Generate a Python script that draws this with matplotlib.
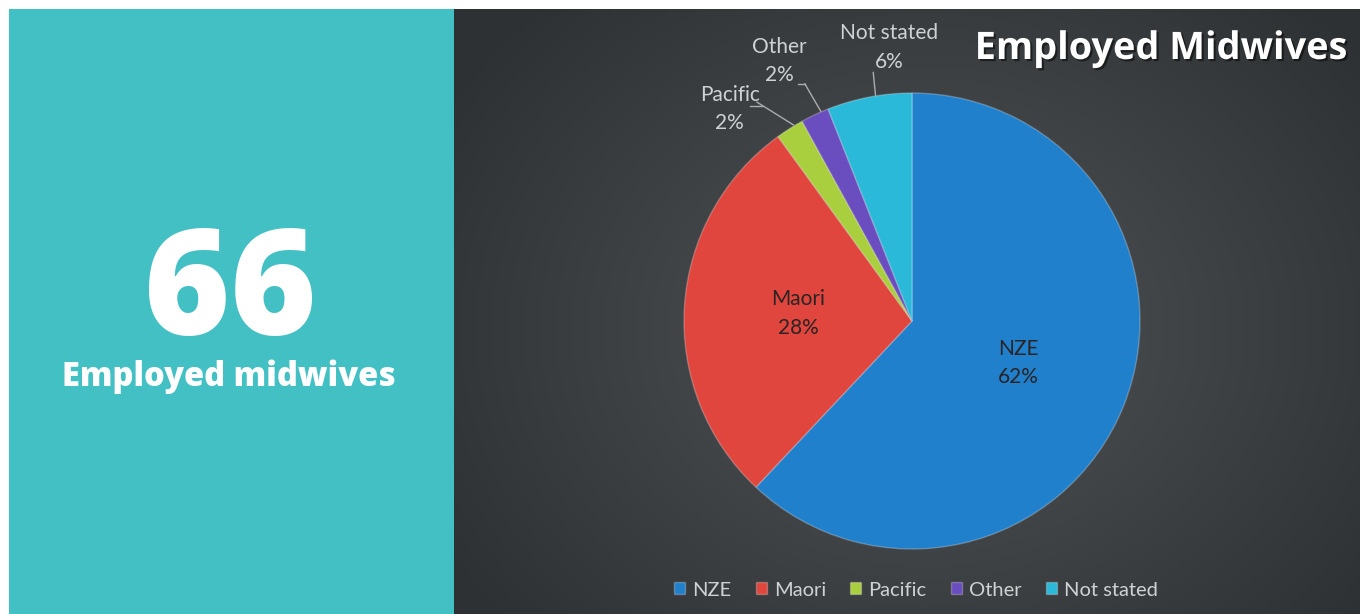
import numpy as np
import matplotlib
matplotlib.use("Agg")
import matplotlib.pyplot as plt
import matplotlib.patheffects as pe
from matplotlib.patches import Rectangle

# headline figure
headline_value = "66"
headline_text = "Employed midwives"

# ethnicity breakdown of employed midwives (%)
groups = ["NZE", "Maori", "Pacific", "Other", "Not stated"]
shares = [62, 28, 2, 2, 6]
colors = ["#2180cc", "#e0463d", "#a9cf3f", "#6a4dbf", "#2bb9d9"]
chart_title = "Employed Midwives"

W, H = 1360, 614
fig = plt.figure(figsize=(W / 100, H / 100), dpi=100, facecolor="white")

def px_box(x0, y0, x1, y1):
    # pixel box (top-left origin) -> figure fraction rect
    return [x0 / W, 1 - y1 / H, (x1 - x0) / W, (y1 - y0) / H]

# teal panel on the left
fig.patches.append(Rectangle((9 / W, 0), (454 - 9) / W, 1 - 9 / H,
                             transform=fig.transFigure, facecolor="#43c0c4",
                             edgecolor="none", zorder=0))
fig.text(230 / W, 1 - 335 / H, headline_value, color="white", fontsize=106,
         fontweight="heavy", family="Open Sans", ha="center", va="baseline")
fig.text(229 / W, 1 - 386 / H, headline_text, color="white", fontsize=23.5,
         fontweight="heavy", family="Open Sans", ha="center", va="baseline")

# dark panel with a soft radial glow behind the pie
bg = fig.add_axes(px_box(454, 9, 1360, 614))
bg.set_axis_off()
yy, xx = np.mgrid[0:605, 0:906]
d = np.hypot((xx - 470) / 560, (yy - 320) / 460)
d = np.clip(d, 0, 1)
c_in = np.array([0x50, 0x54, 0x56]) / 255
c_out = np.array([0x2e, 0x31, 0x33]) / 255
img = c_in[None, None, :] * (1 - d[..., None]) + c_out[None, None, :] * d[..., None]
bg.imshow(img, aspect="auto", interpolation="bilinear")

# pie chart
ax = fig.add_axes(px_box(684, 93, 1140, 549))
wedges, _ = ax.pie(shares, colors=colors, startangle=90, counterclock=False,
                   radius=1.0,
                   wedgeprops=dict(edgecolor=(1, 1, 1, 0.25), linewidth=1.0))
ax.set_xlim(-1, 1)
ax.set_ylim(-1, 1)
ax.set_aspect("equal")
ax.set_axis_off()

label_font = dict(family="Lato", fontsize=15, ha="center", va="center",
                  linespacing=1.55)

# inside labels for the two big slices
for w, name, val in zip(wedges[:2], groups[:2], shares[:2]):
    mid = np.deg2rad((w.theta1 + w.theta2) / 2)
    ax.text(0.5 * np.cos(mid), 0.5 * np.sin(mid), f"{name}\n{val}%",
            color="#2a2424", **label_font)

# outside labels with leader lines for the small slices
outside = {
    "Pacific": ((-0.80, 0.93), (-0.68, 0.96), (-0.52, 0.86)),
    "Other": ((-0.58, 1.14), (-0.47, 1.04), (-0.40, 0.92)),
    "Not stated": ((-0.10, 1.20), (-0.17, 1.09), (-0.16, 0.99)),
}
for w, name, val in zip(wedges[2:], groups[2:], shares[2:]):
    txt_xy, elbow, tip = outside[name]
    ax.text(*txt_xy, f"{name}\n{val}%", color="#cfd2d3", clip_on=False,
            **label_font)
    ax.plot([elbow[0], tip[0]], [elbow[1], tip[1]], color="#a9adaf",
            lw=1.0, clip_on=False)

# short horizontal stubs where the leader lines leave the text
ax.plot([-0.71, -0.66], [0.945, 0.945], color="#a9adaf", lw=1.0, clip_on=False)
ax.plot([-0.50, -0.47], [1.04, 1.04], color="#a9adaf", lw=1.0, clip_on=False)

fig.text(1161 / W, 1 - 49 / H, chart_title, color="white", fontsize=27.3,
         fontweight="bold", family="Open Sans", ha="center", va="center",
         path_effects=[pe.withSimplePatchShadow(offset=(1.5, -1.5),
                                                shadow_rgbFace="black",
                                                alpha=0.5)])

leg = fig.legend(wedges, groups, loc="center", ncol=5,
                 bbox_to_anchor=(916 / W, 1 - 590 / H), frameon=False,
                 handlelength=0.55, handleheight=0.55, handletextpad=0.35,
                 columnspacing=1.2,
                 prop=dict(family="Lato", size=14.5))
for t in leg.get_texts():
    t.set_color("#cfd2d3")

fig.savefig("out.png", dpi=100, facecolor="white")
